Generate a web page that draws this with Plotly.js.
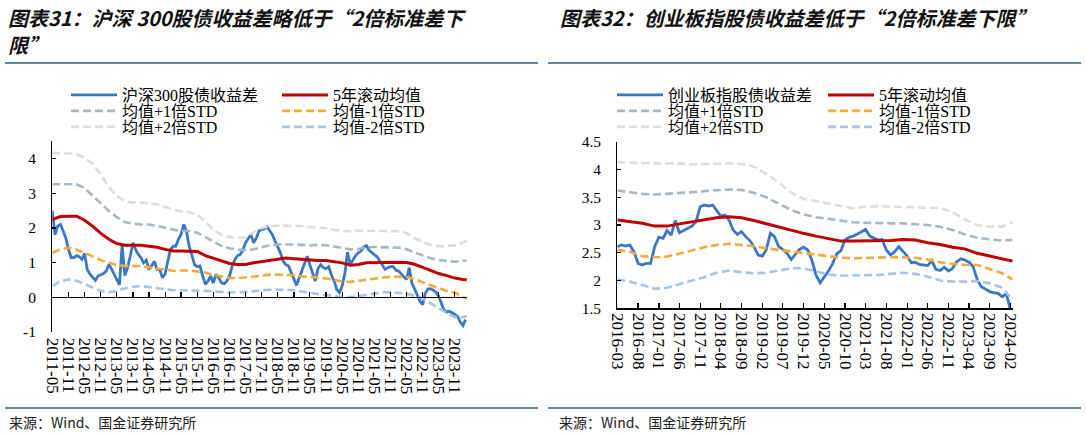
<!DOCTYPE html>
<html>
<head>
<meta charset="utf-8">
<script src="https://cdn.plot.ly/plotly-3.0.1.min.js"></script>
<style>
  html, body { margin: 0; padding: 0; background: #fff; }
  #chart { width: 1086px; height: 435px; }
</style>
</head>
<body>
<div id="chart"></div>
<script>
// ---------- CSI 300 equity-bond yield spread (left panel) ----------
const hsMonths = [
  '2011-05','2011-06','2011-07','2011-08','2011-09','2011-10','2011-11','2011-12',
  '2012-01','2012-02','2012-03','2012-04','2012-05','2012-06','2012-07','2012-08','2012-09','2012-10','2012-11','2012-12',
  '2013-01','2013-02','2013-03','2013-04','2013-05','2013-06','2013-07','2013-08','2013-09','2013-10','2013-11','2013-12',
  '2014-01','2014-02','2014-03','2014-04','2014-05','2014-06','2014-07','2014-08','2014-09','2014-10','2014-11','2014-12',
  '2015-01','2015-02','2015-03','2015-04','2015-05','2015-06','2015-07','2015-08','2015-09','2015-10','2015-11','2015-12',
  '2016-01','2016-02','2016-03','2016-04','2016-05','2016-06','2016-07','2016-08','2016-09','2016-10','2016-11','2016-12',
  '2017-01','2017-02','2017-03','2017-04','2017-05','2017-06','2017-07','2017-08','2017-09','2017-10','2017-11','2017-12',
  '2018-01','2018-02','2018-03','2018-04','2018-05','2018-06','2018-07','2018-08','2018-09','2018-10','2018-11','2018-12',
  '2019-01','2019-02','2019-03','2019-04','2019-05','2019-06','2019-07','2019-08','2019-09','2019-10','2019-11','2019-12',
  '2020-01','2020-02','2020-03','2020-04','2020-05','2020-06','2020-07','2020-08','2020-09','2020-10','2020-11','2020-12',
  '2021-01','2021-02','2021-03','2021-04','2021-05','2021-06','2021-07','2021-08','2021-09','2021-10','2021-11','2021-12',
  '2022-01','2022-02','2022-03','2022-04','2022-05','2022-06','2022-07','2022-08','2022-09','2022-10','2022-11','2022-12',
  '2023-01','2023-02','2023-03','2023-04','2023-05','2023-06','2023-07','2023-08','2023-09','2023-10','2023-11','2023-12',
  '2024-01','2024-02','2024-03'
];
const hsSpread = [
  2.49,1.80,2.05,2.10,1.91,1.71,1.38,1.14,1.14,1.20,1.17,1.09,1.26,0.80,0.66,0.56,0.48,0.61,0.65,0.68,
  0.75,0.94,0.82,0.68,0.51,0.35,1.50,0.62,0.85,1.18,1.57,1.38,1.23,1.14,0.99,1.07,0.80,0.90,1.04,0.80,
  0.80,0.56,0.66,1.04,1.38,1.47,1.47,1.67,1.81,2.10,1.90,1.47,1.18,0.94,0.88,0.90,0.61,0.37,0.46,0.61,
  0.41,0.66,0.56,0.41,0.39,0.46,0.61,0.90,1.09,1.20,1.23,1.36,1.57,1.71,1.81,1.57,1.71,1.91,1.96,1.97,
  2.03,1.91,1.81,1.62,1.47,1.28,1.04,0.94,0.90,0.70,0.51,0.34,0.56,0.78,0.94,1.18,0.94,0.66,0.46,0.82,
  0.94,0.85,0.82,0.88,0.63,0.46,0.22,0.13,0.32,0.68,1.30,0.94,1.09,1.20,1.28,1.33,1.45,1.49,1.36,1.28,
  1.23,1.17,1.04,0.92,0.80,0.85,0.88,0.88,0.78,0.75,0.68,0.59,0.51,0.85,0.41,0.24,0.08,-0.12,-0.22,0.11,
  0.24,0.24,0.20,0.14,0.03,-0.18,-0.38,-0.43,-0.41,-0.45,-0.50,-0.55,-0.72,-0.82,-0.65
];
const hsBandDates = [
  '2011-05','2011-08','2011-11',
  '2012-02','2012-05','2012-08','2012-11','2013-02','2013-05','2013-08','2013-11',
  '2014-02','2014-05','2014-08','2014-11','2015-02','2015-05','2015-08','2015-11',
  '2016-02','2016-05','2016-08','2016-11','2017-02','2017-05','2017-08','2017-11',
  '2018-02','2018-05','2018-08','2018-11','2019-02','2019-05','2019-08','2019-11',
  '2020-02','2020-05','2020-08','2020-11','2021-02','2021-05','2021-08','2021-11',
  '2022-02','2022-05','2022-08','2022-11','2023-02','2023-05','2023-08','2023-11',
  '2024-02','2024-03-15'
];
const hsMean5y = [
  2.24,2.33,2.34,2.34,2.22,2.05,1.84,1.67,1.55,1.50,1.50,1.50,1.47,1.44,1.38,1.33,1.33,1.33,1.32,1.20,
  1.12,1.05,0.97,0.94,0.94,0.99,1.03,1.07,1.11,1.13,1.11,1.09,1.07,1.06,1.06,1.03,0.99,0.92,0.94,0.99,
  1.00,1.01,1.01,1.01,1.00,0.95,0.86,0.77,0.68,0.62,0.55,0.51,0.50
];
const hsPlus1 = [
  3.26,3.26,3.26,3.26,3.15,2.94,2.71,2.49,2.31,2.17,2.12,2.10,2.10,2.06,2.00,1.95,1.91,1.91,1.86,1.73,
  1.60,1.48,1.41,1.37,1.36,1.38,1.44,1.50,1.52,1.53,1.52,1.51,1.49,1.51,1.50,1.46,1.42,1.38,1.39,1.44,
  1.45,1.45,1.44,1.43,1.38,1.30,1.20,1.12,1.07,1.04,1.02,1.05,1.06
];
const hsMinus1 = [
  1.28,1.38,1.43,1.37,1.28,1.17,1.07,0.99,0.93,0.90,0.90,0.90,0.86,0.83,0.78,0.76,0.77,0.77,0.74,0.71,
  0.64,0.59,0.55,0.55,0.56,0.59,0.62,0.65,0.65,0.65,0.63,0.60,0.59,0.57,0.54,0.49,0.45,0.44,0.47,0.52,
  0.55,0.57,0.59,0.59,0.58,0.52,0.42,0.34,0.26,0.18,0.13,0.00,-0.05
];
const hsPlus2 = [
  4.17,4.17,4.15,4.13,4.03,3.85,3.55,3.18,2.93,2.77,2.73,2.73,2.72,2.68,2.60,2.53,2.47,2.46,2.38,2.18,
  1.95,1.80,1.73,1.71,1.73,1.88,2.00,2.05,2.07,2.07,2.06,2.05,2.03,2.02,1.99,1.94,1.91,1.90,1.92,1.92,
  1.91,1.91,1.91,1.90,1.85,1.70,1.60,1.50,1.47,1.47,1.50,1.58,1.62
];
const hsMinus2 = [
  0.32,0.46,0.51,0.47,0.38,0.27,0.18,0.14,0.18,0.25,0.30,0.32,0.29,0.25,0.22,0.20,0.20,0.20,0.20,0.18,
  0.16,0.14,0.14,0.14,0.15,0.17,0.20,0.22,0.22,0.21,0.20,0.16,0.12,0.09,0.06,0.02,0.00,0.00,0.02,0.06,
  0.10,0.14,0.14,0.13,0.10,0.04,-0.05,-0.18,-0.32,-0.46,-0.58,-0.58,-0.55
];
const hsTickVals = [-1, 0, 1, 2, 3, 4];
const hsTickText = ['-1', '0', '1', '2', '3', '4'];

// ---------- ChiNext equity-bond yield spread (right panel) ----------
const cyMonths = [
  '2016-03','2016-04','2016-05','2016-06','2016-07','2016-08','2016-09','2016-10','2016-11','2016-12',
  '2017-01','2017-02','2017-03','2017-04','2017-05','2017-06','2017-07','2017-08','2017-09','2017-10','2017-11','2017-12',
  '2018-01','2018-02','2018-03','2018-04','2018-05','2018-06','2018-07','2018-08','2018-09','2018-10','2018-11','2018-12',
  '2019-01','2019-02','2019-03','2019-04','2019-05','2019-06','2019-07','2019-08','2019-09','2019-10','2019-11','2019-12',
  '2020-01','2020-02','2020-03','2020-04','2020-05','2020-06','2020-07','2020-08','2020-09','2020-10','2020-11','2020-12',
  '2021-01','2021-02','2021-03','2021-04','2021-05','2021-06','2021-07','2021-08','2021-09','2021-10','2021-11','2021-12',
  '2022-01','2022-02','2022-03','2022-04','2022-05','2022-06','2022-07','2022-08','2022-09','2022-10','2022-11','2022-12',
  '2023-01','2023-02','2023-03','2023-04','2023-05','2023-06','2023-07','2023-08','2023-09','2023-10','2023-11','2023-12',
  '2024-01','2024-02'
];
const cySpread = [
  2.61,2.64,2.62,2.64,2.52,2.31,2.28,2.31,2.31,2.61,2.78,2.76,2.90,2.82,3.08,2.86,2.90,2.94,2.98,3.06,
  3.33,3.36,3.34,3.36,3.26,3.16,3.18,3.09,2.91,2.83,2.88,2.79,2.72,2.61,2.46,2.44,2.55,2.85,2.79,2.61,
  2.56,2.49,2.38,2.46,2.56,2.60,2.55,2.36,2.10,1.96,2.06,2.17,2.30,2.48,2.54,2.73,2.78,2.80,2.84,2.88,
  2.92,2.80,2.77,2.73,2.74,2.55,2.46,2.52,2.61,2.52,2.44,2.32,2.33,2.29,2.28,2.27,2.36,2.20,2.18,2.24,
  2.17,2.22,2.34,2.39,2.37,2.33,2.25,2.01,1.89,1.85,1.80,1.78,1.77,1.71,1.76,1.45
];
const cyBandDates = [
  '2016-03','2016-06','2016-09','2016-12',
  '2017-03','2017-06','2017-09','2017-12','2018-03','2018-06','2018-09','2018-12',
  '2019-03','2019-06','2019-09','2019-12','2020-03','2020-06','2020-09','2020-12',
  '2021-03','2021-06','2021-09','2021-12','2022-03','2022-06','2022-09','2022-12',
  '2023-03','2023-06','2023-09','2023-12','2024-02-15'
];
const cyMean5y = [
  3.09,3.06,3.03,2.98,2.98,3.02,3.06,3.09,3.13,3.15,3.13,3.08,3.02,2.96,2.90,2.85,2.80,2.75,2.71,2.71,
  2.71,2.71,2.72,2.74,2.73,2.68,2.65,2.60,2.57,2.49,2.44,2.40,2.35
];
const cyPlus1 = [
  3.62,3.59,3.56,3.55,3.56,3.58,3.59,3.61,3.63,3.64,3.63,3.58,3.50,3.39,3.27,3.19,3.14,3.11,3.08,3.05,
  3.04,3.03,3.03,3.03,3.02,3.00,2.97,2.91,2.83,2.77,2.74,2.72,2.73
];
const cyMinus1 = [
  2.55,2.52,2.44,2.42,2.43,2.48,2.54,2.60,2.64,2.66,2.64,2.62,2.58,2.55,2.52,2.50,2.47,2.43,2.41,2.40,
  2.41,2.42,2.42,2.42,2.41,2.38,2.33,2.30,2.28,2.28,2.21,2.13,2.02
];
const cyPlus2 = [
  4.13,4.12,4.11,4.11,4.11,4.11,4.09,4.10,4.11,4.11,4.10,4.05,3.92,3.77,3.58,3.47,3.43,3.39,3.35,3.30,
  3.33,3.34,3.33,3.33,3.32,3.31,3.31,3.23,3.10,3.00,2.97,2.97,3.05
];
const cyMinus2 = [
  2.02,1.98,1.92,1.85,1.87,1.93,1.99,2.06,2.14,2.18,2.15,2.13,2.14,2.18,2.22,2.22,2.17,2.11,2.09,2.09,
  2.09,2.10,2.12,2.14,2.12,2.07,2.00,1.98,1.98,1.99,1.95,1.87,1.65
];
const cyTickVals = [1.5, 2, 2.5, 3, 3.5, 4, 4.5];
const cyTickText = ['1.5', '2', '2.5', '3', '3.5', '4', '4.5'];

// ---------- text ----------
const leftNames  = ['沪深300股债收益差', '5年滚动均值', '均值+1倍STD', '均值-1倍STD', '均值+2倍STD', '均值-2倍STD'];
const rightNames = ['创业板指股债收益差', '5年滚动均值', '均值+1倍STD', '均值-1倍STD', '均值+2倍STD', '均值-2倍STD'];
const leftTitle1 = '图表31：沪深 300股债收益差略低于“2倍标准差下';
const leftTitle2 = '限”';
const rightTitle = '图表32：创业板指股债收益差低于“2倍标准差下限”';
const sourceText = '来源：Wind、国金证券研究所';

// ---------- page geometry (pixels) ----------
const W = 1086, H = 435;
const fx = p => p / W;
const fy = p => 1 - p / H;

const SERIF = 'Liberation Serif, Times New Roman, serif';
const LEGEND_FONT = 'Liberation Serif, Noto Sans CJK SC, serif';
const CJK = 'Noto Sans CJK SC, sans-serif';

const styles = [
  { color: '#3A77C5', width: 2.8 },
  { color: '#C00000', width: 3.0 },
  { color: '#A6B9C5', width: 2.6, dash: '8px,4px' },
  { color: '#F8A93C', width: 2.6, dash: '8px,4px' },
  { color: '#DDDDDD', width: 2.6, dash: '8px,4px' },
  { color: '#A8C4EA', width: 2.6, dash: '8px,4px' }
];
const legendIds = [['legend', 'legend', 'legend2', 'legend2', 'legend3', 'legend3'],
                   ['legend4', 'legend4', 'legend5', 'legend5', 'legend6', 'legend6']];

function panel(names, xs, ys, xa, ya, legs) {
  return ys.map((y, i) => ({
    type: 'scatter', mode: 'lines', x: xs[i], y: y,
    name: names[i], line: styles[i], xaxis: xa, yaxis: ya,
    legend: legs[i], hoverinfo: 'skip'
  }));
}

const traces = [
  ...panel(leftNames,
    [hsMonths, hsBandDates, hsBandDates, hsBandDates, hsBandDates, hsBandDates],
    [hsSpread, hsMean5y, hsPlus1, hsMinus1, hsPlus2, hsMinus2], 'x', 'y', legendIds[0]),
  ...panel(rightNames,
    [cyMonths, cyBandDates, cyBandDates, cyBandDates, cyBandDates, cyBandDates],
    [cySpread, cyMean5y, cyPlus1, cyMinus1, cyPlus2, cyMinus2], 'x2', 'y2', legendIds[1])
];

const yDomL = [fy(331.7), fy(141.4)];
const yRangeL = [-1, 4.5];
const zeroPos = yDomL[0] + (0 - yRangeL[0]) / (yRangeL[1] - yRangeL[0]) * (yDomL[1] - yDomL[0]);

const axisCommon = {
  showline: true, linecolor: '#000', linewidth: 1.2,
  ticks: 'inside', tickcolor: '#000', tickwidth: 1.2,
  showgrid: false, zeroline: false, fixedrange: true
};
const xTickFont = { family: SERIF, size: 17, color: '#000' };
const yTickFont = { family: SERIF, size: 15.5, color: '#000' };

function legendBox(xPix, yPix) {
  return {
    orientation: 'h', x: fx(xPix), xanchor: 'left', y: fy(yPix), yanchor: 'middle',
    bgcolor: 'rgba(0,0,0,0)', borderwidth: 0, itemwidth: 46, entrywidth: 150,
    font: { family: LEGEND_FONT, size: 16, color: '#000' }, tracegroupgap: 0
  };
}

const rule = (x0, x1, y) => ({
  type: 'line', xref: 'paper', yref: 'paper', x0: fx(x0), x1: fx(x1), y0: fy(y), y1: fy(y),
  line: { color: '#2B5F82', width: 1.6 }
});
const titleFont = { family: CJK, size: 20, color: '#111', weight: 'bold', style: 'italic' };
const note = (text, xPix, yPix, font) => ({
  text: text, xref: 'paper', yref: 'paper', x: fx(xPix), y: fy(yPix),
  xanchor: 'left', yanchor: 'middle', showarrow: false, align: 'left', font: font
});

const layout = {
  width: W, height: H, margin: { l: 0, r: 0, t: 0, b: 0 },
  paper_bgcolor: '#fff', plot_bgcolor: 'rgba(0,0,0,0)',
  showlegend: true, hovermode: false,
  xaxis: Object.assign({}, axisCommon, {
    domain: [fx(52.3), fx(467.2)], type: 'date', range: ['2011-05-01', '2024-03-20'],
    anchor: 'free', position: zeroPos, ticklen: 5,
    tick0: '2011-05-01', dtick: 'M6', tickformat: '%Y-%m', tickangle: 90,
    ticklabelstandoff: 36, tickfont: xTickFont
  }),
  yaxis: Object.assign({}, axisCommon, {
    domain: yDomL, range: yRangeL, anchor: 'x', ticklen: 4,
    tickmode: 'array', tickvals: hsTickVals, ticktext: hsTickText,
    ticklabelstandoff: 12, tickfont: yTickFont
  }),
  xaxis2: Object.assign({}, axisCommon, {
    domain: [fx(617.3), fx(1013.2)], type: 'date', range: ['2016-03-01', '2024-02-20'],
    anchor: 'y2', ticklen: 5,
    tick0: '2016-03-01', dtick: 'M5', tickformat: '%Y-%m', tickangle: 90,
    tickfont: xTickFont
  }),
  yaxis2: Object.assign({}, axisCommon, {
    domain: [fy(308.3), fy(141.7)], range: [1.5, 4.5], anchor: 'x2', ticklen: 4,
    tickmode: 'array', tickvals: cyTickVals, ticktext: cyTickText,
    ticklabelstandoff: 12, tickfont: yTickFont
  }),
  legend: legendBox(66, 95),
  legend2: legendBox(66, 111),
  legend3: legendBox(66, 127),
  legend4: legendBox(612, 95),
  legend5: legendBox(612, 111),
  legend6: legendBox(612, 127),
  shapes: [
    rule(5, 538, 63), rule(548, 1081, 63),
    rule(5, 538, 408), rule(548, 1081, 408)
  ],
  annotations: [
    note(leftTitle1, 6, 18, titleFont),
    note(leftTitle2, 6, 45, titleFont),
    note(rightTitle, 558, 18, titleFont),
    note(sourceText, 7, 422, { family: CJK, size: 14, color: '#222' }),
    note(sourceText, 557, 422, { family: CJK, size: 14, color: '#222' })
  ]
};

Plotly.newPlot('chart', traces, layout, { staticPlot: true, displayModeBar: false });
</script>
</body>
</html>
